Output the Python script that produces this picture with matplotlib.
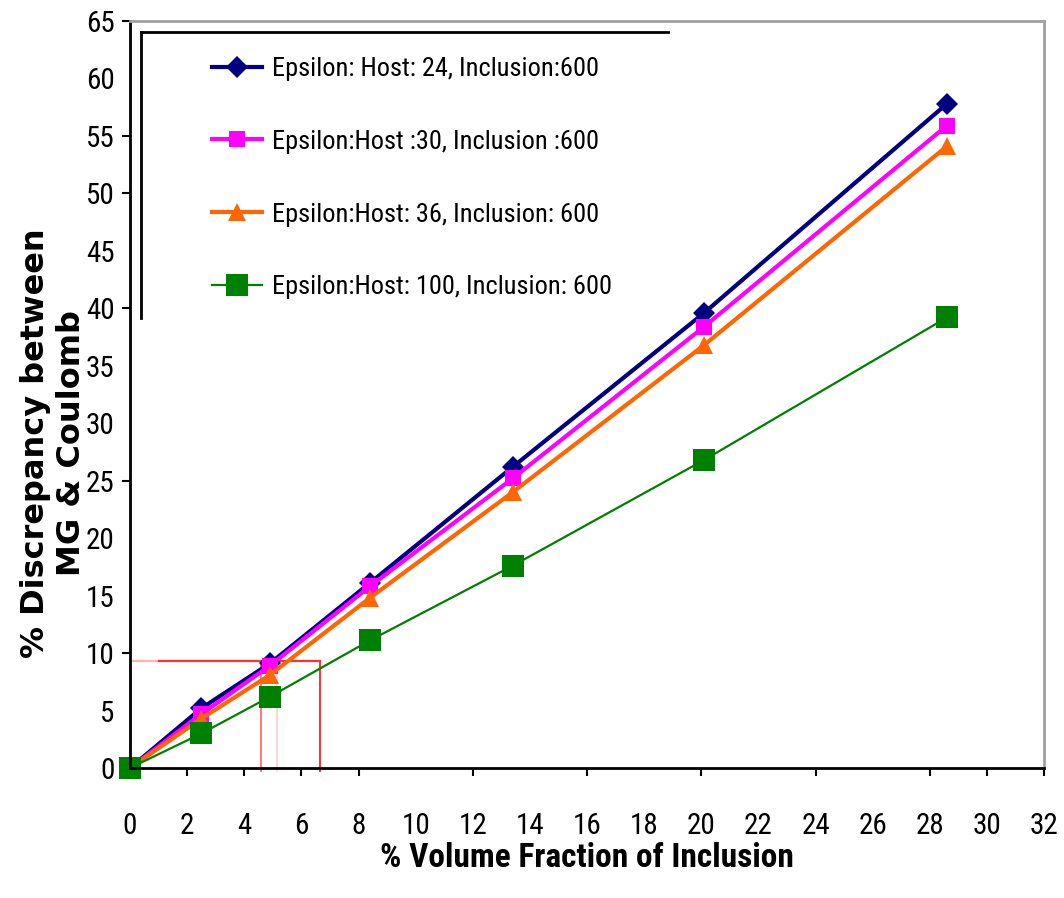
import matplotlib
matplotlib.use("Agg")
import matplotlib.pyplot as plt
from matplotlib import font_manager
from matplotlib.ticker import FixedLocator, NullFormatter

# Volume fraction of inclusion (%)
volume_fraction = [0.0, 2.5, 4.9, 8.4, 13.4, 20.1, 28.6]

# Discrepancy between Maxwell-Garnett and Coulomb (%)
host_24 = [0.0, 5.2, 9.1, 16.1, 26.2, 39.6, 57.8]
host_30 = [0.0, 4.7, 8.9, 15.8, 25.2, 38.4, 55.9]
host_36 = [0.0, 4.3, 8.1, 14.8, 24.0, 36.8, 54.1]
host_100 = [0.0, 3.0, 6.2, 11.1, 17.6, 26.8, 39.2]

series_labels = [
    "Epsilon: Host: 24, Inclusion:600",
    "Epsilon:Host :30, Inclusion :600",
    "Epsilon:Host: 36, Inclusion: 600",
    "Epsilon:Host: 100, Inclusion: 600",
]

x_tick_labels = list(range(0, 33, 2))
x_tick_marks = [0, 2, 4, 6, 8, 12, 16, 20, 24, 28, 30, 32]
y_tick_labels = list(range(0, 66, 5))
y_tick_marks = [0, 10, 25, 40, 50, 55, 65]

# Guide lines marking the ~9.35 % discrepancy level
guide_level = 9.35
guide_x = [4.58, 5.14, 6.64]

# Prefer a condensed sans face when one is installed
installed = {f.name for f in font_manager.fontManager.ttflist}
narrow = [n for n in ("Liberation Sans Narrow", "DejaVu Sans Condensed",
                      "Roboto Condensed", "Liberation Sans", "Arial")
          if n in installed] + ["DejaVu Sans"]

fig = plt.figure(figsize=(10.64, 8.98), dpi=100)
ax = fig.add_axes([0.1222, 0.1448, 0.859, 0.8318])

styles = [
    dict(color="#000080", marker="D", markersize=11, linewidth=3.0),
    dict(color="#FF00FF", marker="s", markersize=12, linewidth=3.0),
    dict(color="#FF6600", marker="^", markersize=13, linewidth=3.0),
    dict(color="#008000", marker="s", markersize=16, linewidth=1.6),
]
all_series = [host_24, host_30, host_36, host_100]
handles = []
for values, label, st in zip(all_series, series_labels, styles):
    h, = ax.plot(volume_fraction, values, label=label, clip_on=False,
                 markeredgewidth=0, **st)
    handles.append(h)

# Guide lines
ax.plot([0.1, 1.0], [guide_level, guide_level], color="#FFB3B3", lw=1.6, zorder=1)
ax.plot([1.0, guide_x[2]], [guide_level, guide_level], color="#FF3030", lw=1.6, zorder=1)
ax.plot([guide_x[0], guide_x[0]], [guide_level, -0.3], color="#FF6060", lw=1.2,
        zorder=1, clip_on=False)
ax.plot([guide_x[1], guide_x[1]], [guide_level, -0.3], color="#FFD0D0", lw=1.2,
        zorder=1, clip_on=False)
ax.plot([guide_x[2], guide_x[2]], [guide_level, -0.3], color="#FF3030", lw=1.4,
        zorder=1, clip_on=False)

ax.set_xlim(0, 32)
ax.set_ylim(0, 65)

# Labels on every step, tick marks only at selected positions
ax.xaxis.remove_overlapping_locs = False
ax.yaxis.remove_overlapping_locs = False
ax.set_xticks(x_tick_labels)
ax.set_xticklabels([str(v) for v in x_tick_labels])
ax.xaxis.set_minor_locator(FixedLocator(x_tick_marks))
ax.xaxis.set_minor_formatter(NullFormatter())
ax.set_yticks(y_tick_labels)
ax.set_yticklabels([str(v) for v in y_tick_labels])
ax.yaxis.set_minor_locator(FixedLocator(y_tick_marks))
ax.yaxis.set_minor_formatter(NullFormatter())

ax.tick_params(axis="x", which="major", length=0, pad=32, labelsize=21)
ax.tick_params(axis="y", which="major", length=0, pad=11, labelsize=21)
ax.tick_params(which="minor", direction="out", length=6, width=1.5, color="black")
for lab in ax.get_xticklabels() + ax.get_yticklabels():
    lab.set_family(narrow)

for side in ("left", "bottom"):
    ax.spines[side].set_color("black")
    ax.spines[side].set_linewidth(2.0)
for side in ("top", "right"):
    ax.spines[side].set_color("#A0A0A0")
    ax.spines[side].set_linewidth(2.0)

ax.set_xlabel("% Volume Fraction of Inclusion", family=narrow, fontsize=24,
              fontweight="bold")
ax.xaxis.set_label_coords(0.5, -0.121)
ax.xaxis.label.set_va("center")

ax.set_ylabel("% Discrepancy between\nMG & Coulomb", fontsize=23,
              fontweight="bold", linespacing=1.2)
ax.yaxis.set_label_coords(-0.084, 0.435)
ax.yaxis.label.set_va("center")

leg = ax.legend(handles=handles, loc="upper left",
                bbox_to_anchor=(0.0897, 0.952), frameon=False,
                borderpad=0, borderaxespad=0, handlelength=1.9,
                handletextpad=0.38, labelspacing=1.85, numpoints=1,
                prop={"family": narrow, "size": 19})

# Partial frame around the legend
ax.plot([0.012, 0.5886], [0.985, 0.985], transform=ax.transAxes,
        color="black", lw=2.0, clip_on=False)
ax.plot([0.012, 0.012], [0.985, 0.602], transform=ax.transAxes,
        color="black", lw=2.0, clip_on=False)

fig.savefig("out.png", dpi=100, facecolor="white")
